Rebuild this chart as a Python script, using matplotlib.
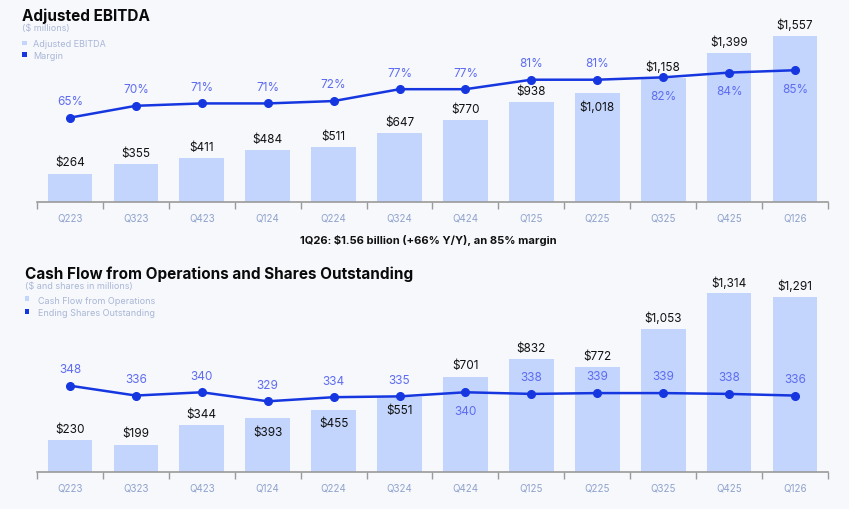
import matplotlib
matplotlib.use("Agg")
import matplotlib.pyplot as plt
from matplotlib.patches import Rectangle
from matplotlib.ticker import FixedLocator, NullFormatter

# ---------------- data ----------------
quarters = ["Q223", "Q323", "Q423", "Q124", "Q224", "Q324",
            "Q424", "Q125", "Q225", "Q325", "Q425", "Q126"]
ebitda = [264, 355, 411, 484, 511, 647, 770, 938, 1018, 1158, 1399, 1557]
margin = [65, 70, 71, 71, 72, 77, 77, 81, 81, 82, 84, 85]
cfo = [230, 199, 344, 393, 455, 551, 701, 832, 772, 1053, 1314, 1291]
shares = [348, 336, 340, 329, 334, 335, 340, 338, 339, 339, 338, 336]

# label placement (style)
ebitda_pos = ["above"] * 8 + ["below"] + ["above"] * 3
margin_pos = ["above"] * 9 + ["below"] * 3
cfo_pos = ["above"] * 3 + ["below"] * 3 + ["above"] * 6
shares_pos = ["above"] * 6 + ["below"] + ["above"] * 5

W, H = 849, 510
BG = "#F6F8FC"
BAR = "#C3D5FD"
LINE = "#1637E0"
LBL = "#5E6CF0"
TICKC = "#8FA2CC"
LEGC = "#A9B6D6"
FONT = ["Inter", "DejaVu Sans"]
plt.rcParams["font.family"] = FONT

fig = plt.figure(figsize=(W / 100, H / 100), dpi=100, facecolor=BG)


def fy(ypx):
    return 1 - ypx / H


def make_axes(top_px, bot_px, left_px=37, right_px=828):
    ax = fig.add_axes([left_px / W, fy(bot_px), (right_px - left_px) / W, (bot_px - top_px) / H])
    ax.set_facecolor("none")
    return ax


def style_x(ax):
    n = len(quarters)
    ax.set_xlim(-0.5, n - 0.5)
    ax.set_xticks(range(n))
    ax.set_xticklabels(quarters, fontsize=7, color=TICKC)
    ax.tick_params(axis="x", which="major", length=0, pad=8)
    ax.xaxis.set_minor_locator(FixedLocator([i - 0.5 for i in range(n + 1)]))
    ax.xaxis.set_minor_formatter(NullFormatter())
    ax.tick_params(axis="x", which="minor", length=5, width=1, color="#9A9A9A")
    for s in ["top", "right", "left"]:
        ax.spines[s].set_visible(False)
    ax.spines["bottom"].set_color("#9A9A9A")
    ax.spines["bottom"].set_linewidth(1.2)
    ax.set_yticks([])


def bar_labels(ax, vals, pos):
    for i, (v, p) in enumerate(zip(vals, pos)):
        off = 8 if p == "above" else -9.8
        ax.annotate(f"${v:,}", (i, v), xytext=(0, off), textcoords="offset points",
                    ha="center", va="center", fontsize=8.5, color="#111111")


def line_labels(ax, vals, pos, fmt):
    for i, (v, p) in enumerate(zip(vals, pos)):
        off = 12 if p == "above" else -13.5
        ax.annotate(fmt(v), (i, v), xytext=(0, off), textcoords="offset points",
                    ha="center", va="center", fontsize=8.5, color=LBL)


x = list(range(len(quarters)))

# ---------------- top chart ----------------
ax1 = make_axes(20, 202.7)
ax1.bar(x, ebitda, width=0.677, color=BAR, zorder=1)
ax1.set_ylim(0, 1715)
style_x(ax1)
bar_labels(ax1, ebitda, ebitda_pos)
ax1b = ax1.twinx()
ax1b.set_facecolor("none")
ax1b.plot(x, margin, color=LINE, lw=1.8, marker="o", ms=5.5, zorder=3)
ax1b.set_ylim(29.56, 106.6)
ax1b.axis("off")
line_labels(ax1b, margin, margin_pos, lambda v: f"{v}%")

# ---------------- bottom chart ----------------
ax2 = make_axes(280, 472.5)
ax2.bar(x, cfo, width=0.677, color=BAR, zorder=1)
ax2.set_ylim(0, 1421)
style_x(ax2)
bar_labels(ax2, cfo, cfo_pos)
ax2b = ax2.twinx()
ax2b.set_facecolor("none")
ax2b.plot(x, shares, color=LINE, lw=1.8, marker="o", ms=5.5, zorder=3)
ax2b.set_ylim(243.4, 478.1)
ax2b.axis("off")
line_labels(ax2b, shares, shares_pos, lambda v: f"{v}")

# ---------------- titles, legends ----------------
fig.text(22.5 / W, fy(20.7), "Adjusted EBITDA", fontsize=11, fontweight="bold",
         color="#0A0A0A", va="baseline", ha="left")
fig.text(22.5 / W, fy(31.5), "($ millions)", fontsize=6.5, color=LEGC, va="baseline")


def legend_item(xsq, ycen, xtxt, ybase, color, text, size=4.5):
    fig.add_artist(Rectangle(((xsq - size / 2) / W, fy(ycen + size / 2)), size / W, size / H,
                             transform=fig.transFigure, color=color, lw=0))
    fig.text(xtxt / W, fy(ybase), text, fontsize=6.5, color=LEGC, va="baseline")


legend_item(24.5, 43.8, 33, 46.8, BAR, "Adjusted EBITDA")
legend_item(24.5, 55.7, 33, 58.7, LINE, "Margin")

fig.text(428 / W, fy(241), "1Q26: $1.56 billion (+66% Y/Y), an 85% margin", fontsize=8,
         fontweight="bold", color="#111111", ha="center", va="center")

fig.text(25.3 / W, fy(279.3), "Cash Flow from Operations and Shares Outstanding", fontsize=11,
         fontweight="bold", color="#0A0A0A", va="baseline", ha="left")
fig.text(25.3 / W, fy(288.5), "($ and shares in millions)", fontsize=6.5, color=LEGC, va="baseline")
legend_item(27, 299.8, 37.7, 303.7, BAR, "Cash Flow from Operations", size=5)
legend_item(27, 312.5, 37.7, 315.5, LINE, "Ending Shares Outstanding", size=5)

fig.savefig("out.png", dpi=100, facecolor=BG)
